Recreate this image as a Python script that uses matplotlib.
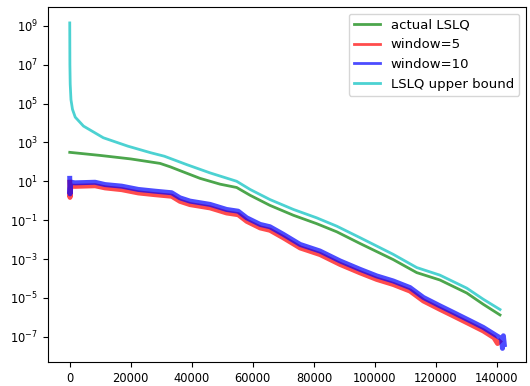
import numpy as np
import matplotlib
matplotlib.use("Agg")
import matplotlib.pyplot as plt
from matplotlib.ticker import FixedLocator, NullLocator

# ---- data (x = iteration, values read as log10 of the quantity) ----
green_x = [0, 10000, 20000, 29600, 33000, 36100, 42700, 49300, 54700, 59100,
           65600, 73300, 80900, 87500, 95100, 106000, 113700, 121300, 130100,
           135500, 141000]
green_log = [2.49, 2.33, 2.15, 1.92, 1.74, 1.55, 1.15, 0.85, 0.68, 0.28,
             -0.24, -0.75, -1.18, -1.60, -2.20, -3.03, -3.70, -4.08, -4.75,
             -5.33, -5.88]

cyan_x = [0, 50, 150, 400, 900, 1800, 4500, 11000, 19000, 26500, 31000,
          38300, 46000, 54700, 59100, 65600, 73300, 80900, 87500, 95100,
          106000, 113700, 121300, 130100, 135500, 141000]
cyan_log = [9.15, 7.0, 6.0, 5.2, 4.7, 4.3, 3.84, 3.24, 2.81, 2.47, 2.29,
            1.86, 1.43, 1.0, 0.58, 0.06, -0.45, -0.88, -1.31, -1.90,
            -2.76, -3.44, -3.83, -4.50, -5.07, -5.60]

blue_x = [0, 80, 150, 400, 1740, 8300, 11600, 17000, 22500, 28000, 33400,
          36100, 39400, 46000, 51400, 55200, 58000, 62400, 65600, 70000,
          75500, 82000, 88600, 95100, 100600, 106000, 111500, 115900, 121300,
          125700, 131200, 135500, 139900, 141500, 141800, 142100, 142400]
blue_log = [1.15, 0.35, 0.60, 0.95, 0.92, 0.95, 0.83, 0.75, 0.58, 0.49, 0.41,
            0.15, -0.02, -0.19, -0.45, -0.54, -0.88, -1.22, -1.34, -1.73,
            -2.25, -2.59, -3.10, -3.53, -3.87, -4.13, -4.47, -4.98, -5.41,
            -5.75, -6.18, -6.52, -6.95, -7.10, -7.60, -6.95, -7.40]

red_x = [0, 80, 150, 400, 1740, 8300, 11600, 17000, 22500, 28000, 33400,
         36100, 39400, 46000, 51400, 55200, 58000, 62400, 65600, 70000,
         75500, 82000, 88600, 95100, 100600, 106000, 111500, 115900, 121300,
         125700, 131200, 135500, 139000, 140200, 140800]
red_log = [0.95, 0.17, 0.40, 0.75, 0.74, 0.77, 0.66, 0.57, 0.40, 0.31, 0.23,
           -0.03, -0.20, -0.37, -0.63, -0.72, -1.06, -1.40, -1.52, -1.91,
           -2.43, -2.77, -3.28, -3.71, -4.05, -4.31, -4.65, -5.16, -5.59,
           -5.93, -6.36, -6.70, -7.05, -7.35, -7.25]

labels = ["actual LSLQ", "window=5", "window=10", "LSLQ upper bound"]
colors = ["g", "r", "b", "c"]

xticks = [0, 20000, 40000, 60000, 80000, 100000, 120000, 140000]
yticks = [1e9, 1e7, 1e5, 1e3, 1e1, 1e-1, 1e-3, 1e-5, 1e-7]
ytick_labels = [r"$10^{9}$", r"$10^{7}$", r"$10^{5}$", r"$10^{3}$", r"$10^{1}$",
                r"$10^{-1}$", r"$10^{-3}$", r"$10^{-5}$", r"$10^{-7}$"]

fig = plt.figure(figsize=(5.30, 3.86), dpi=100)
ax = fig.add_axes([0.0906, 0.0622, 0.9019, 0.9197])

ax.semilogy(green_x, 10.0 ** np.array(green_log), color=colors[0], alpha=0.7,
            lw=2.0, label=labels[0])
ax.semilogy(red_x, 10.0 ** np.array(red_log), color=colors[1], alpha=0.7,
            lw=3.6, label=labels[1])
ax.semilogy(blue_x, 10.0 ** np.array(blue_log), color=colors[2], alpha=0.7,
            lw=3.6, label=labels[2])
ax.semilogy(cyan_x, 10.0 ** np.array(cyan_log), color=colors[3], alpha=0.7,
            lw=2.0, label=labels[3])

ax.set_xlim(-7120, 149520)
ax.set_ylim(10 ** -8.3, 10 ** 9.97)
ax.xaxis.set_major_locator(FixedLocator(xticks))
ax.set_xticklabels([str(t) for t in xticks])
ax.yaxis.set_major_locator(FixedLocator(yticks))
ax.yaxis.set_minor_locator(NullLocator())
ax.set_yticklabels(ytick_labels)
ax.tick_params(labelsize=8.3)

leg = ax.legend(loc="upper right", fontsize=9.5)
for h in leg.get_lines():
    h.set_linewidth(2.0)

fig.savefig("out.png", dpi=100)
